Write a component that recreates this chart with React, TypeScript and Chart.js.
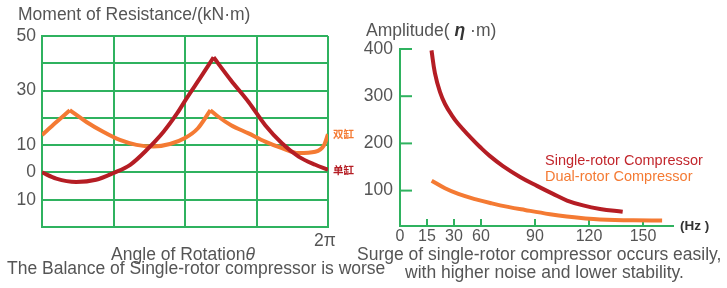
import React, { useEffect, useRef } from 'react';
import { Chart, registerables } from 'chart.js';

Chart.register(...registerables);

const FONT = "'Liberation Sans', Arial, Helvetica, sans-serif";
const CJK = "'Noto Sans CJK SC', 'Noto Sans', sans-serif";
const GREEN = '#2fb25f';
const RED = '#b51d24';
const ORANGE = '#f47a33';
const GREY = '#555555';

// ---------- Left chart: moment of resistance vs rotation angle ----------
const singleAngle = [0, 18, 43, 68, 90, 111, 132, 153, 170, 183, 200, 216, 238, 260, 281, 302, 323, 344, 360];
const singleMoment = [0, -2.3, -3.5, -2.7, -0.2, 2.8, 8.3, 14.9, 21.6, 27.6, 35, 42.2, 33.7, 25.8, 17.3, 10.7, 5.8, 2.8, 1];
const singleCusps = [216];

const dualAngle = [0, 17, 35, 56, 77, 98, 119, 140, 161, 180, 196, 212, 222, 238, 260, 281, 302, 323, 344, 355, 360];
const dualMoment = [13.7, 18.2, 22.8, 18.5, 14.9, 11.9, 10.1, 9.5, 10.4, 12.6, 16.1, 22.8, 20.4, 17.3, 14.3, 11.3, 8.9, 7.1, 7.6, 10, 14];
const dualCusps = [35, 212];

const momentTicks = [50, 40, 30, 20, 10, 0, -10, -20];
const momentTickLabels = ['50', '', '30', '', '10', '0', '10', ''];
const angleTicks = [0, 90, 180, 270, 360];
const angleTickLabels = ['', '', '', '', '2π'];

// ---------- Right chart: amplitude vs frequency ----------
const singleFreq = [17.5, 19.4, 22.2, 25, 28.7, 34.8, 47.8, 58.9, 65, 72.2, 81.7, 91.1, 100, 107.8, 116.7, 126.1, 138.7];
const singleAmp = [397, 349, 309, 283.5, 260, 241, 214, 192.5, 173, 152, 129, 110, 93, 79, 68.6, 61.2, 55];
const dualFreq = [17.6, 25, 34.8, 53.3, 66, 75, 84.4, 98.3, 107.6, 116.8, 126.1, 144.8, 160.6];
const dualAmp = [121, 105, 93, 82, 73, 65.5, 59, 50, 45, 41.5, 39, 37, 36.5];

const freqTicksHz = [0, 15, 30, 60, 90, 120, 150];
const freqTickPos = [0, 1, 2, 3, 5, 7, 9];
const ampTicks = [100, 200, 300, 400];

function hzToPos(hz: number): number {
  for (let i = 1; i < freqTicksHz.length; i++) {
    if (hz <= freqTicksHz[i] || i === freqTicksHz.length - 1) {
      const h0 = freqTicksHz[i - 1], h1 = freqTicksHz[i];
      const p0 = freqTickPos[i - 1], p1 = freqTickPos[i];
      return p0 + ((hz - h0) * (p1 - p0)) / (h1 - h0);
    }
  }
  return 0;
}

function splitAtCusps(xs: number[], ys: number[], cusps: number[]) {
  const segs: { x: number; y: number }[][] = [];
  let cur: { x: number; y: number }[] = [];
  xs.forEach((x, i) => {
    cur.push({ x, y: ys[i] });
    if (cusps.includes(x)) {
      segs.push(cur);
      cur = [{ x, y: ys[i] }];
    }
  });
  if (cur.length > 1) segs.push(cur);
  return segs;
}

const lineDs = (data: any[], color: string, monotone = true) => ({
  data,
  borderColor: color,
  borderWidth: 4,
  pointRadius: 0,
  fill: false,
  ...(monotone ? { cubicInterpolationMode: 'monotone' as const } : { tension: 0.4 }),
});

const innerTicks = {
  id: 'innerTicks',
  beforeDatasetsDraw(chart: any) {
    const { ctx, chartArea, scales } = chart;
    const x = scales.x, y = scales.y;
    ctx.save();
    ctx.strokeStyle = GREEN;
    ctx.lineWidth = 2;
    ampTicks.forEach((v) => {
      const py = y.getPixelForValue(v);
      ctx.beginPath();
      ctx.moveTo(chartArea.left, py);
      ctx.lineTo(chartArea.left + 12, py);
      ctx.stroke();
    });
    freqTickPos.slice(1).forEach((p) => {
      const px = x.getPixelForValue(p);
      ctx.beginPath();
      ctx.moveTo(px, chartArea.bottom);
      ctx.lineTo(px, chartArea.bottom - 7);
      ctx.stroke();
    });
    ctx.restore();
  },
};

function Text(props: {
  x: number; cy: number; size: number; color?: string; weight?: string | number;
  family?: string; center?: boolean; children: React.ReactNode;
}) {
  const { x, cy, size, color = GREY, weight = 'normal', family = FONT, center, children } = props;
  return (
    <div
      style={{
        position: 'absolute',
        left: x,
        top: cy - 0.49 * size,
        fontSize: size,
        lineHeight: '1',
        color,
        fontWeight: weight as any,
        fontFamily: family,
        whiteSpace: 'nowrap',
        transform: center ? 'translateX(-50%)' : undefined,
      }}
    >
      {children}
    </div>
  );
}

export default function App() {
  const leftRef = useRef<HTMLCanvasElement>(null);
  const rightRef = useRef<HTMLCanvasElement>(null);

  useEffect(() => {
    Chart.defaults.font.family = FONT;
    const redSegs = splitAtCusps(singleAngle, singleMoment, singleCusps);
    const orangeSegs = splitAtCusps(dualAngle, dualMoment, dualCusps);

    const left = new Chart(leftRef.current!, {
      type: 'line',
      data: {
        datasets: [
          ...redSegs.map((s) => lineDs(s, RED)),
          ...orangeSegs.map((s) => lineDs(s, ORANGE)),
        ],
      },
      options: {
        responsive: false,
        animation: false,
        layout: { padding: { top: 36, right: 32, bottom: 0, left: 0 } },
        plugins: { legend: { display: false }, tooltip: { enabled: false } },
        scales: {
          x: {
            type: 'linear',
            min: 0,
            max: 360,
            afterBuildTicks: (s: any) => { s.ticks = angleTicks.map((v) => ({ value: v })); },
            afterFit: (s: any) => { s.height = 61; },
            ticks: {
              callback: (_v: any, i: number) => angleTickLabels[i],
              font: { size: 17.5 },
              color: GREY,
              padding: 4,
              labelOffset: -3,
              maxRotation: 0,
              autoSkip: false,
            },
            grid: { color: GREEN, lineWidth: 2, drawTicks: false },
            border: { color: GREEN, width: 2 },
          },
          y: {
            type: 'linear',
            min: -20,
            max: 50,
            afterBuildTicks: (s: any) => { s.ticks = momentTicks.map((v) => ({ value: v })); },
            afterFit: (s: any) => { s.width = 42; },
            ticks: {
              callback: (_v: any, i: number) => momentTickLabels[i],
              font: { size: 17.5 },
              color: GREY,
              padding: 6,
              autoSkip: false,
            },
            grid: { color: GREEN, lineWidth: 2, drawTicks: false },
            border: { color: GREEN, width: 2 },
          },
        },
      },
    });

    const right = new Chart(rightRef.current!, {
      type: 'line',
      data: {
        datasets: [
          lineDs(singleFreq.map((f, i) => ({ x: hzToPos(f), y: singleAmp[i] })), RED, false),
          lineDs(dualFreq.map((f, i) => ({ x: hzToPos(f), y: dualAmp[i] })), ORANGE, false),
        ],
      },
      options: {
        responsive: false,
        animation: false,
        layout: { padding: { top: 49, right: 54, bottom: 0, left: 0 } },
        plugins: { legend: { display: false }, tooltip: { enabled: false } },
        scales: {
          x: {
            type: 'linear',
            min: 0,
            max: 10.11,
            afterBuildTicks: (s: any) => { s.ticks = freqTickPos.map((v) => ({ value: v })); },
            afterFit: (s: any) => { s.height = 62; },
            ticks: {
              callback: (_v: any, i: number) => String(freqTicksHz[i]),
              font: { size: 16 },
              color: GREY,
              padding: 1,
              maxRotation: 0,
              autoSkip: false,
            },
            grid: { display: false, drawTicks: false },
            border: { color: GREEN, width: 2 },
          },
          y: {
            type: 'linear',
            min: 25,
            max: 400,
            afterBuildTicks: (s: any) => { s.ticks = ampTicks.map((v) => ({ value: v })); },
            afterFit: (s: any) => { s.width = 40; },
            ticks: {
              font: { size: 17.5 },
              color: GREY,
              padding: 7,
              autoSkip: false,
            },
            grid: { display: false, drawTicks: false },
            border: { color: GREEN, width: 2 },
          },
        },
      },
      plugins: [innerTicks],
    });

    return () => {
      left.destroy();
      right.destroy();
    };
  }, []);

  return (
    <div style={{ position: 'fixed', left: 0, top: 0, width: 727, height: 288, background: '#fff', overflow: 'hidden', fontFamily: FONT }}>
      <canvas ref={leftRef} width={360} height={288} style={{ position: 'absolute', left: 0, top: 0 }} />
      <canvas ref={rightRef} width={367} height={288} style={{ position: 'absolute', left: 360, top: 0 }} />

      <Text x={18} cy={15} size={17.5}>Moment of Resistance/(kN·m)</Text>
      <Text x={366} cy={31} size={17.5}>
        Amplitude( <span style={{ fontStyle: 'italic', fontWeight: 'bold', color: '#333' }}>η</span> ·m)
      </Text>

      <Text x={333} cy={134} size={10.5} color={ORANGE} weight="bold" family={CJK}>双缸</Text>
      <Text x={333} cy={170.5} size={10.5} color={RED} weight="bold" family={CJK}>单缸</Text>

      <Text x={545} cy={160.5} size={14.5} color="#c2272d">Single-rotor Compressor</Text>
      <Text x={545} cy={176} size={14.5} color={ORANGE}>Dual-rotor Compressor</Text>
      <Text x={680} cy={226} size={13.5} color="#333" weight="bold">(Hz )</Text>

      <Text x={183} cy={255} size={17.5} center>
        Angle of Rotation<span style={{ fontStyle: 'italic' }}>θ</span>
      </Text>
      <Text x={7} cy={268.5} size={17.5}>The Balance of Single-rotor compressor is worse</Text>
      <Text x={357} cy={255} size={17.5}>Surge of single-rotor compressor occurs easily,</Text>
      <Text x={405} cy={273} size={17.5}>with higher noise and lower stability.</Text>
    </div>
  );
}
